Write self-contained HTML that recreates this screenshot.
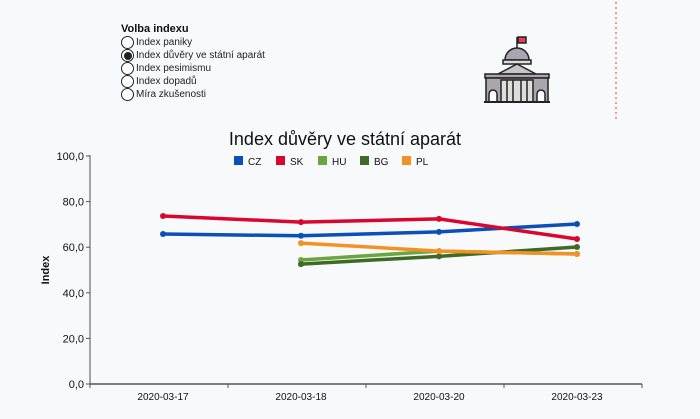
<!DOCTYPE html>
<html><head><meta charset="utf-8"><style>
body{margin:0;background:#f8f9fb;font-family:"Liberation Sans",sans-serif;}
#wrap{position:relative;width:700px;height:419px;overflow:hidden;background:#f8f9fb}
.radio{position:absolute;left:121px;font-size:10px;color:#222;display:flex;align-items:center}
.radio span.c{width:11px;height:11px;border:1px solid #222;border-radius:50%;margin-right:2px;display:inline-flex;align-items:center;justify-content:center;background:#fff}
</style></head><body>
<div id="wrap">
<div style="position:absolute;left:121px;top:23px;font-size:11px;font-weight:bold;color:#111">Volba indexu</div>
<div class="radio" style="top:36px"><span class="c"></span>Index paniky</div>
<div class="radio" style="top:49px"><span class="c"><span style="width:8px;height:8px;border-radius:50%;background:#222"></span></span>Index důvěry ve státní aparát</div>
<div class="radio" style="top:62px"><span class="c"></span>Index pesimismu</div>
<div class="radio" style="top:75px"><span class="c"></span>Index dopadů</div>
<div class="radio" style="top:88px"><span class="c"></span>Míra zkušenosti</div>
<svg style="position:absolute;left:0;top:0" width="700" height="419">
<g stroke="#222" stroke-width="1.5">
<rect x="518" y="37" width="8" height="6" fill="#e04050"/>
<line x1="517" y1="37" x2="517" y2="48"/>
<path d="M505 60 A12 12 0 0 1 529 60 Z" fill="#aaa6b0"/>
<rect x="503" y="60" width="28" height="4" fill="#ddd"/>
<path d="M498 74 L517 64 L536 74 Z" fill="#c8c4cc"/>
<rect x="485" y="74" width="64" height="4" fill="#aaa6b0"/>
<rect x="486" y="78" width="62" height="24" fill="#aaa6b0"/>
<rect x="501" y="80" width="32" height="22" fill="#ddd"/>
<line x1="507" y1="80" x2="507" y2="102"/><line x1="513" y1="80" x2="513" y2="102"/><line x1="521" y1="80" x2="521" y2="102"/><line x1="527" y1="80" x2="527" y2="102"/>
<path d="M489 102 V94 A4 4 0 0 1 497 94 V102" fill="#fff"/>
<path d="M537 102 V94 A4 4 0 0 1 545 94 V102" fill="#fff"/>
<line x1="484" y1="102" x2="550" y2="102" stroke-width="2"/>
</g>
<line x1="616" y1="2" x2="616" y2="120" stroke="#e04050" stroke-dasharray="2,3"/>
<text x="345" y="145" text-anchor="middle" font-size="18" fill="#111">Index důvěry ve státní aparát</text>
<g id="legend"></g>
<text transform="translate(49,270) rotate(-90)" text-anchor="middle" font-size="11" font-weight="bold" fill="#111">Index</text>
<g id="axes"></g><g id="series"></g>
</svg>
</div>
<script>
const categories=["2020-03-17","2020-03-18","2020-03-20","2020-03-23"];
const yTicks=[0,20,40,60,80,100];
const yTickLabels=["0,0","20,0","40,0","60,0","80,0","100,0"];
const seriesNames=["CZ","SK","HU","BG","PL"];
const seriesColors=["#0a50b8","#d9072e","#6aa53f","#3d6b24","#f39224"];
const valsCZ=[65.8,65.0,66.7,70.2];
const valsSK=[73.7,71.0,72.4,63.6];
const valsHU=[null,54.4,58.3,57.0];
const valsBG=[null,52.6,56.0,60.1];
const valsPL=[null,61.8,58.3,57.0];
const allVals=[valsCZ,valsSK,valsHU,valsBG,valsPL];
const NS="http://www.w3.org/2000/svg";
const x0=90,x1=642,y0=384,y1=156;
const bw=(x1-x0)/categories.length;
function xS(i){return x0+bw*(i+0.5)+4;}
function yS(v){return y0-(v/100)*(y0-y1);}
function mk(t,a,p){const e=document.createElementNS(NS,t);for(const k in a)e.setAttribute(k,a[k]);p.appendChild(e);return e;}
const ax=document.getElementById('axes');
let l=mk('line',{x1:x0,y1:y1-1,x2:x0,y2:y0,stroke:'#888','stroke-width':1.5},ax);


l=mk('line',{x1:x0,y1:y0,x2:x1,y2:y0,stroke:'#555','stroke-width':1.5},ax);


yTicks.forEach((v,i)=>{mk('line',{x1:x0-4,y1:yS(v),x2:x0,y2:yS(v),stroke:'#555'},ax);
const t=mk('text',{x:x0-6,y:yS(v)+4,'text-anchor':'end','font-size':11,fill:'#111'},ax);t.textContent=yTickLabels[i];

});
for(let i=0;i<=categories.length;i++)mk('line',{x1:x0+bw*i,y1:y0,x2:x0+bw*i,y2:y0+4,stroke:'#555'},ax);
categories.forEach((c,i)=>{const t=mk('text',{x:xS(i),y:y0+16,'text-anchor':'middle','font-size':10,fill:'#111'},ax);t.textContent=c;

});
const sg=document.getElementById('series');
allVals.forEach((vals,s)=>{const g=mk('g',{},sg);


const pts=[];vals.forEach((v,i)=>{if(v!=null)pts.push([xS(i),yS(v)]);});
mk('polyline',{points:pts.map(p=>p.join(',')).join(' '),fill:'none',stroke:seriesColors[s],'stroke-width':3.5},g);
pts.forEach(p=>{const c=mk('circle',{cx:p[0],cy:p[1],r:3,fill:seriesColors[s]},g);

});});
const lg=document.getElementById('legend');
seriesNames.forEach((n,i)=>{const g=mk('g',{},lg);


const x=234+i*42;mk('rect',{x:x,y:156,width:9,height:9,fill:seriesColors[i]},g);
const t=mk('text',{x:x+14,y:165,'font-size':10,fill:'#111'},g);t.textContent=n;});
</script>
</body></html>
